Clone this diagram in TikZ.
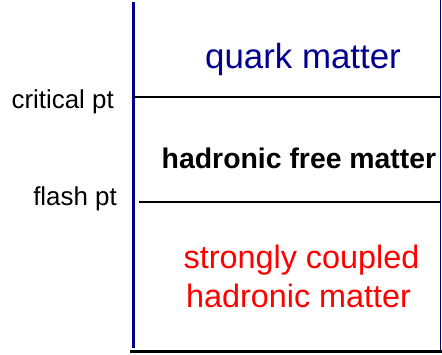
\documentclass[tikz,border=0pt]{standalone}
\usepackage{fontspec}
\setmainfont{Liberation Sans}
\usetikzlibrary{positioning}
\definecolor{phasenavy}{HTML}{000090}
\definecolor{phasered}{HTML}{FF0000}

\begin{document}
\begin{tikzpicture}[x=1bp,y=1bp,
  lbl/.style={inner sep=0pt,font=\fontsize{26}{30}\selectfont},
  region/.style={inner sep=0pt,align=center}]
\useasboundingbox (0,0) rectangle (442,354);
% axis and frame
\coordinate (axtop) at (133,352);
\coordinate (axbot) at (133,6);
\coordinate (rtop) at (440.5,354);
\coordinate (rbot) at (440.5,4);
\draw[phasenavy,line width=3bp] (axtop) -- (axbot);
\draw[phasenavy!80!black,line width=1bp] (rtop) -- (rbot);
\draw[black,line width=3bp] (130,2.5) -- (442,2.5);
% transition lines
\coordinate (crit0) at (134,257);
\coordinate (crit1) at (440,257);
\coordinate (flash0) at (139,152);
\coordinate (flash1) at (440,152);
\draw[black,line width=2.7bp] (crit0) -- (crit1);
\draw[black,line width=2.7bp] (flash0) -- (flash1);
\node[lbl,anchor=base east] (critlbl) at (114,246) {critical pt};
\node[lbl,anchor=base east] (flashlbl) at (117,149) {flash pt};
% phases
\node[region,anchor=base,text=phasenavy,font=\fontsize{35}{40}\selectfont] (quark) at (303,286) {quark matter};
\node[region,anchor=base,font=\bfseries\fontsize{28.5}{34}\selectfont] (hfree) at (299,186) {hadronic free matter};
\node[region,anchor=base,text=phasered,font=\fontsize{32.5}{38}\selectfont] (scoupled) at (301.5,86) {strongly coupled};
\node[region,text=phasered,font=\fontsize{32.5}{38}\selectfont,below=39bp of scoupled.base,anchor=base,xshift=-3bp] (hmatter) {hadronic matter};
\end{tikzpicture}
\end{document}
